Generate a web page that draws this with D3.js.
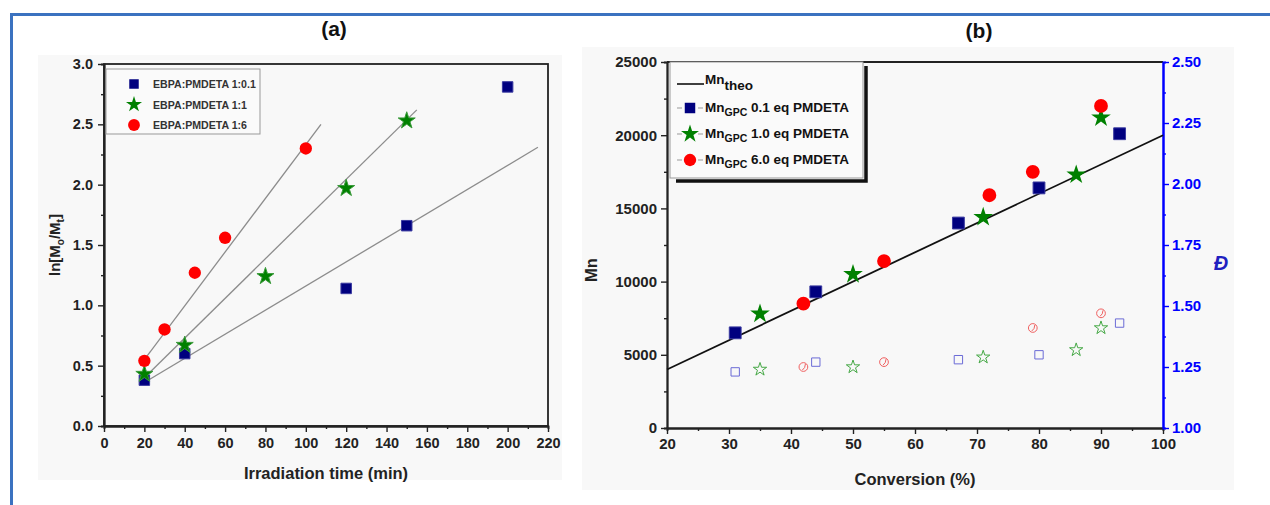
<!DOCTYPE html>
<html><head><meta charset="utf-8">
<script src="https://cdn.jsdelivr.net/npm/d3@7/dist/d3.min.js"></script>
<style>
body{margin:0;background:#fff;}
svg{display:block;font-family:"Liberation Sans",Arial,sans-serif;font-weight:bold;}
</style></head>
<body><svg id="c" width="1270" height="505"></svg>
<script>
// ---------- Panel (a) data ----------
const timeA_sq = [20, 40, 120, 150, 200];
const lnA_sq   = [0.38, 0.60, 1.14, 1.66, 2.81];
const timeA_st = [20, 40, 80, 120, 150];
const lnA_st   = [0.43, 0.67, 1.24, 1.97, 2.53];
const timeA_ci = [20, 30, 45, 60, 100];
const lnA_ci   = [0.54, 0.80, 1.27, 1.56, 2.30];
// fitted lines: [x0, y0, x1, y1]
const fitSq = [20, 0.36, 215, 2.31];
const fitSt = [20, 0.40, 155, 2.62];
const fitCi = [20, 0.55, 107.5, 2.50];
const legendA = ["EBPA:PMDETA 1:0.1", "EBPA:PMDETA 1:1", "EBPA:PMDETA 1:6"];
const xTicksA = [0,20,40,60,80,100,120,140,160,180,200,220];
const yTicksA = [0.0,0.5,1.0,1.5,2.0,2.5,3.0];

// ---------- Panel (b) data ----------
const theoConv = [20, 100];
const theoMn   = [4000, 20000];
const convB_sq = [31, 44, 67, 80, 93];
const mnB_sq   = [6500, 9300, 14000, 16400, 20100];
const dB_sq    = [1.23, 1.27, 1.28, 1.30, 1.43];
const convB_st = [35, 50, 71, 86, 90];
const mnB_st   = [7800, 10500, 14400, 17300, 21200];
const dB_st    = [1.24, 1.25, 1.29, 1.32, 1.41];
const convB_ci = [42, 55, 72, 79, 90];
const mnB_ci   = [8500, 11400, 15900, 17500, 22000];
const convB_ciD= [42, 55, 79, 90];
const dB_ci    = [1.25, 1.27, 1.41, 1.47];
const legendB = [" 0.1 eq PMDETA", " 1.0 eq PMDETA", " 6.0 eq PMDETA"];
const xTicksB = [20,30,40,50,60,70,80,90,100];
const yTicksB = [0,5000,10000,15000,20000,25000];
const yTicksD = [1.00,1.25,1.50,1.75,2.00,2.25,2.50];

const NAVY="#00007f", GREEN="#008000", RED="#ff0000";
const svg = d3.select("#c");

// outer blue frame
svg.append("line").attr("x1",10).attr("x2",1270).attr("y1",14.5).attr("y2",14.5).attr("stroke","#3b72c0").attr("stroke-width",3);
svg.append("line").attr("x1",11.5).attr("x2",11.5).attr("y1",13).attr("y2",505).attr("stroke","#3b72c0").attr("stroke-width",3);

// panel backgrounds
svg.append("rect").attr("x",38).attr("y",55).attr("width",524).attr("height",425).attr("fill","#f8f8f8");
svg.append("rect").attr("x",582).attr("y",47).attr("width",652).attr("height",443).attr("fill","#f8f8f8");

// titles
svg.append("text").attr("x",334).attr("y",36).attr("text-anchor","middle").attr("font-size",21).attr("fill","#111").text("(a)");
svg.append("text").attr("x",979).attr("y",38).attr("text-anchor","middle").attr("font-size",21).attr("fill","#111").text("(b)");

function sym(type,size){return d3.symbol().type(type).size(size)();}

// ================= Panel (a) =================
const xa = d3.scaleLinear().domain([0,220]).range([104,548]);
const ya = d3.scaleLinear().domain([0,3]).range([426,64]);
const ga = svg.append("g");
// frame
ga.append("rect").attr("x",xa(0)).attr("y",ya(3)).attr("width",xa(220)-xa(0)).attr("height",ya(0)-ya(3)).attr("fill","none").attr("stroke","#222").attr("stroke-width",1.8);
// axes
const axXa = ga.append("g").attr("transform",`translate(0,${ya(0)})`)
  .call(d3.axisBottom(xa).tickValues(xTicksA).tickSize(6).tickPadding(4).tickSizeOuter(0).tickFormat(d3.format("d")));
ga.append("g").attr("transform",`translate(0,${ya(0)})`)
  .call(d3.axisBottom(xa).tickValues(d3.range(10,220,20)).tickSize(3).tickFormat(""));
ga.append("g").attr("transform",`translate(${xa(0)},0)`)
  .call(d3.axisLeft(ya).tickValues(yTicksA).tickSize(6).tickPadding(5).tickSizeOuter(0).tickFormat(d3.format(".1f")));
ga.append("g").attr("transform",`translate(${xa(0)},0)`)
  .call(d3.axisLeft(ya).tickValues(d3.range(0.25,3,0.5)).tickSize(3).tickFormat(""));
ga.selectAll(".domain").attr("stroke","#222").attr("stroke-width",1.8);
ga.selectAll(".tick line").attr("stroke","#222").attr("stroke-width",1.4);
ga.selectAll(".tick text").attr("font-size",14.5).attr("font-weight","bold").attr("fill","#222").attr("font-family","Liberation Sans, Arial, sans-serif");
axXa.selectAll(".tick text").attr("dy","0.8em");
// labels
ga.append("text").attr("x",326).attr("y",479).attr("text-anchor","middle").attr("font-size",16.5).attr("fill","#222").text("Irradiation time (min)");
const yl = ga.append("text").attr("transform","translate(60,245) rotate(-90)").attr("text-anchor","middle").attr("font-size",15).attr("fill","#222");
yl.append("tspan").text("ln[M");
yl.append("tspan").attr("font-size",10).attr("dy",4).text("o");
yl.append("tspan").attr("dy",-4).text("/M");
yl.append("tspan").attr("font-size",10).attr("dy",4).text("t");
yl.append("tspan").attr("dy",-4).text("]");
// fit lines
[fitSq,fitSt,fitCi].forEach(f=>{
  ga.append("line").attr("x1",xa(f[0])).attr("y1",ya(f[1])).attr("x2",xa(f[2])).attr("y2",ya(f[3])).attr("stroke","#8c8c8c").attr("stroke-width",1.3);
});
// points
function pts(g,xs,ys,xsc,ysc,type,size,fill,stroke){
  g.selectAll(null).data(xs.map((x,i)=>[x,ys[i]])).enter().append("path")
   .attr("d",sym(type,size)).attr("transform",d=>`translate(${xsc(d[0])},${ysc(d[1])})`)
   .attr("fill",fill).attr("stroke",stroke||"none").attr("stroke-width",stroke?1:0);
}
pts(ga,timeA_sq,lnA_sq,xa,ya,d3.symbolSquare,110,NAVY,"#3a3aa0");
pts(ga,timeA_st,lnA_st,xa,ya,d3.symbolStar,90,GREEN,"#3a9a3a");
pts(ga,timeA_ci,lnA_ci,xa,ya,d3.symbolCircle,120,RED);
// legend a
const la = ga.append("g");
la.append("rect").attr("x",106).attr("y",69).attr("width",154).attr("height",65).attr("fill","#fafafa").attr("stroke","#999").attr("stroke-width",1);
const symA=[[d3.symbolSquare,90,NAVY],[d3.symbolStar,80,GREEN],[d3.symbolCircle,110,RED]];
legendA.forEach((t,i)=>{
  const yy=84+i*20.5;
  la.append("path").attr("d",sym(symA[i][0],symA[i][1])).attr("transform",`translate(134,${yy})`).attr("fill",symA[i][2]);
  la.append("text").attr("x",153).attr("y",yy+4).attr("font-size",10.6).attr("fill","#333").text(t);
});

// ================= Panel (b) =================
const xb = d3.scaleLinear().domain([20,100]).range([667,1163]);
const yb = d3.scaleLinear().domain([0,25000]).range([428,62]);
const yd = d3.scaleLinear().domain([1,2.5]).range([428,62]);
const gb = svg.append("g");
gb.append("line").attr("x1",xb(20)).attr("x2",xb(100)).attr("y1",yb(25000)).attr("y2",yb(25000)).attr("stroke","#222").attr("stroke-width",1.8);
const axXb = gb.append("g").attr("class","k").attr("transform",`translate(0,${yb(0)})`)
  .call(d3.axisBottom(xb).tickValues(xTicksB).tickSize(6).tickSizeOuter(0).tickFormat(d3.format("d")));
gb.append("g").attr("class","k").attr("transform",`translate(0,${yb(0)})`)
  .call(d3.axisBottom(xb).tickValues(d3.range(25,100,10)).tickSize(3).tickFormat(""));
gb.append("g").attr("class","k").attr("transform",`translate(${xb(20)},0)`)
  .call(d3.axisLeft(yb).tickValues(yTicksB).tickSize(6).tickPadding(4).tickSizeOuter(0).tickFormat(d3.format("d")));
gb.append("g").attr("class","k").attr("transform",`translate(${xb(20)},0)`)
  .call(d3.axisLeft(yb).tickValues(d3.range(2500,25000,5000)).tickSize(3).tickFormat(""));
gb.selectAll(".k .domain").attr("stroke","#222").attr("stroke-width",1.8);
gb.selectAll(".k .tick line").attr("stroke","#222").attr("stroke-width",1.4);
gb.selectAll(".k .tick text").attr("font-size",15).attr("fill","#222");
axXb.selectAll(".tick text").attr("dy","0.8em");
// right axis (blue)
gb.append("g").attr("class","b").attr("transform",`translate(${xb(100)},0)`)
  .call(d3.axisRight(yd).tickValues(yTicksD).tickSize(6).tickSizeOuter(0).tickFormat(d3.format(".2f")));
gb.append("g").attr("class","b").attr("transform",`translate(${xb(100)},0)`)
  .call(d3.axisRight(yd).tickValues(d3.range(1.125,2.5,0.25)).tickSize(3).tickFormat(""));
gb.selectAll(".b .domain").attr("stroke","#0000ff").attr("stroke-width",2);
gb.selectAll(".b .tick line").attr("stroke","#0000ff").attr("stroke-width",1.4);
gb.selectAll(".b .tick text").attr("font-size",15).attr("fill","#0000ff");
gb.selectAll(".tick text").attr("font-weight","bold").attr("font-family","Liberation Sans, Arial, sans-serif");
// axis labels
gb.append("text").attr("x",915).attr("y",485).attr("text-anchor","middle").attr("font-size",16.5).attr("fill","#222").text("Conversion (%)");
gb.append("text").attr("transform","translate(597,270) rotate(-90)").attr("text-anchor","middle").attr("font-size",16.5).attr("fill","#222").text("Mn");
gb.append("text").attr("x",1221).attr("y",270).attr("text-anchor","middle").attr("font-size",20).attr("font-style","italic").attr("fill","#2020c0").text("Đ");
// theo line
gb.append("path").datum(theoConv.map((c,i)=>[c,theoMn[i]]))
  .attr("d",d3.line().x(d=>xb(d[0])).y(d=>yb(d[1]))).attr("stroke","#111").attr("stroke-width",1.8).attr("fill","none");
// dispersity open markers
function openPts(xs,ys,type,size,col){
  gb.selectAll(null).data(xs.map((x,i)=>[x,ys[i]])).enter().append("path")
   .attr("d",sym(type,size)).attr("transform",d=>`translate(${xb(d[0])},${yd(d[1])})`)
   .attr("fill","none").attr("stroke",col).attr("stroke-width",1);
}
openPts(convB_sq,dB_sq,d3.symbolSquare,70,"#6b6bd6");
openPts(convB_st,dB_st,d3.symbolStar,55,"#45a845");
openPts(convB_ciD,dB_ci,d3.symbolCircle,60,"#f06060");
gb.selectAll(null).data(convB_ciD.map((x,i)=>[x,dB_ci[i]])).enter().append("path")
  .attr("d","M-1,3 Q2,1 2,-3").attr("transform",d=>`translate(${xb(d[0])},${yd(d[1])})`)
  .attr("fill","none").attr("stroke","#f06060").attr("stroke-width",1);
// Mn filled markers
pts(gb,convB_sq,mnB_sq,xb,yb,d3.symbolSquare,140,NAVY,"#3a3aa0");
pts(gb,convB_st,mnB_st,xb,yb,d3.symbolStar,120,GREEN);
pts(gb,convB_ci,mnB_ci,xb,yb,d3.symbolCircle,150,RED);
// legend b
const lb = gb.append("g");
lb.append("path").attr("d","M866,66 V181 H676").attr("fill","none").attr("stroke","#111").attr("stroke-width",3.5);
lb.append("rect").attr("x",670).attr("y",62).attr("width",193).attr("height",116).attr("fill","#fafafa").attr("stroke","#999").attr("stroke-width",1);
lb.append("line").attr("x1",677).attr("x2",704).attr("y1",84).attr("y2",84).attr("stroke","#111").attr("stroke-width",1.6);
const t0 = lb.append("text").attr("x",705).attr("y",84).attr("font-size",13.5).attr("fill","#111");
t0.append("tspan").text("Mn");
t0.append("tspan").attr("dy",6).text("theo");
const symB=[[d3.symbolSquare,110,NAVY],[d3.symbolStar,100,GREEN],[d3.symbolCircle,120,RED]];
legendB.forEach((t,i)=>{
  const yy=108+i*26;
  lb.append("path").attr("d",`M677,${yy} h5 M698,${yy} h5`).attr("stroke","#999").attr("stroke-width",1);
  lb.append("path").attr("d",sym(symB[i][0],symB[i][1])).attr("transform",`translate(690,${yy})`).attr("fill",symB[i][2]);
  const tt = lb.append("text").attr("x",705).attr("y",yy+4).attr("font-size",13.5).attr("fill","#111");
  tt.append("tspan").text("Mn");
  tt.append("tspan").attr("font-size",10.5).attr("dy",4).text("GPC");
  tt.append("tspan").attr("dy",-4).text(t);
});
</script></body></html>
